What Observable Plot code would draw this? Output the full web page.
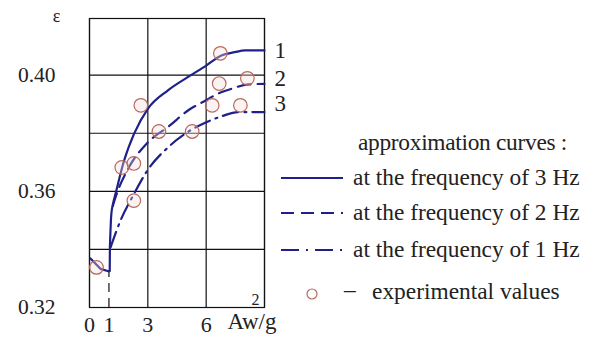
<!DOCTYPE html>
<html>
<head>
<meta charset="utf-8">
<script src="https://cdn.jsdelivr.net/npm/d3@7"></script>
<script src="https://cdn.jsdelivr.net/npm/@observablehq/plot@0.6"></script>
<style>
  html, body { margin: 0; padding: 0; background: #fff; }
  #wrap { position: relative; width: 589px; height: 338px; font-family: "Liberation Serif", "Times New Roman", serif; color: #222; }
  #wrap svg.plot { position: absolute; left: 0; top: 0; }
  .leg { position: absolute; font-size: 23.4px; white-space: nowrap; line-height: 1; }
</style>
</head>
<body>
<div id="wrap"></div>
<script>
// ---- data ----
const xTicks = [0, 1, 3, 6];
const yTicks = [0.32, 0.36, 0.40];
const xGrid = [0, 3, 6, 9];
const yGrid = [0.32, 0.34, 0.36, 0.38, 0.40];

// common starting segment
const baseX = [0.05, 0.57, 0.97, 1.04, 1.05];
const baseY = [0.3369, 0.3333, 0.3325, 0.3325, 0.341];

// curve 1: 3 Hz (solid)
const c1X = [1.05, 1.12, 1.22, 1.34, 1.78, 2.29, 3.0, 4.02, 5.05, 6.0, 6.78, 7.47, 8.0, 9.0];
const c1Y = [0.341, 0.352, 0.356, 0.3592, 0.3706, 0.3798, 0.3884, 0.3947, 0.3993, 0.4033, 0.4068, 0.4079, 0.4085, 0.4085];

// curve 2: 2 Hz (dashed)
const c2X = [1.2, 1.34, 2.03, 2.95, 4.1, 5.1, 5.95, 6.6, 7.3, 8.16, 9.0];
const c2Y = [0.355, 0.358, 0.3683, 0.3765, 0.3825, 0.388, 0.3912, 0.3936, 0.3953, 0.3968, 0.397];

// curve 3: 1 Hz (dash-dot)
const c3X = [1.09, 1.6, 2.2, 2.98, 4.1, 5.05, 5.95, 6.78, 7.64, 9.0];
const c3Y = [0.3408, 0.350, 0.358, 0.3672, 0.3755, 0.3804, 0.3836, 0.3858, 0.3873, 0.3873];

// experimental values
const expX = [0.36, 1.66, 2.28, 2.28, 2.64, 3.57, 5.28, 6.31, 6.73, 6.67, 7.76, 8.12];
const expY = [0.3338, 0.3682, 0.3696, 0.3568, 0.3896, 0.3806, 0.3806, 0.3896, 0.4075, 0.3971, 0.3896, 0.3989];

// curve number labels (placed at right end)
const curveLabels = ["1", "2", "3"];
const curveLabelY = [0.4085, 0.3989, 0.3902];

const legendTitle = "approximation curves :";
const legendItems = ["at the frequency of 3 Hz", "at the frequency of 2 Hz", "at the frequency of 1 Hz"];
const legendDash = "–";
const legendExp = "experimental values";

// ---- build tables ----
const toPts = (xs, ys) => xs.map((x, i) => ({x, y: ys[i]}));
const base = toPts(baseX, baseY);
const c1 = toPts(c1X, c1Y);
const c2 = toPts(c2X, c2Y);
const c3 = toPts(c3X, c3Y);
const exp = toPts(expX, expY);
const labels = curveLabels.map((t, i) => ({t, x: 9, y: curveLabelY[i]}));

const navy = "#20208a";
const circ = "#b86a60";
const font = "Liberation Serif, Times New Roman, serif";

const plot = Plot.plot({
  width: 589,
  height: 338,
  marginLeft: 89,
  marginRight: 325,
  marginTop: 18,
  marginBottom: 31,
  style: {fontFamily: font, fontSize: "22px", color: "#222", background: "transparent"},
  x: {domain: [0, 9]},
  y: {domain: [0.32, 0.4195]},
  marks: [
    Plot.gridX(xGrid, {stroke: "#111", strokeOpacity: 1, strokeWidth: 1.2}),
    Plot.gridY(yGrid, {stroke: "#111", strokeOpacity: 1, strokeWidth: 1.2}),
    Plot.frame({stroke: "#111", strokeWidth: 1.2}),
    Plot.ruleX([1], {y1: 0.32, y2: 0.3325, stroke: "#111", strokeWidth: 1.2, strokeDasharray: "9,6"}),
    Plot.axisX(xTicks, {tickSize: 0, tickPadding: 9, fontSize: 22, label: null, tickFormat: d => String(d)}),
    Plot.axisY(yTicks, {tickSize: 0, tickPadding: 34, fontSize: 21.5, label: null, tickFormat: d => d.toFixed(2)}),
    Plot.text(["ε"], {frameAnchor: "top-left", dx: -33, dy: -9, fontSize: 18, textAnchor: "middle"}),
    Plot.text(["Aw/g"], {frameAnchor: "bottom-right", dx: 12, dy: 21, fontSize: 23, textAnchor: "end"}),
    Plot.text(["2"], {frameAnchor: "bottom-right", dx: -9, dy: -3, fontSize: 16, textAnchor: "middle"}),
    Plot.line(base, {x: "x", y: "y", stroke: navy, strokeWidth: 2.2}),
    Plot.line(c1, {x: "x", y: "y", stroke: navy, strokeWidth: 2.2, curve: "monotone-x"}),
    Plot.line(c2, {x: "x", y: "y", stroke: navy, strokeWidth: 2.2, curve: "monotone-x", strokeDasharray: "13,7"}),
    Plot.line(c3, {x: "x", y: "y", stroke: navy, strokeWidth: 2.2, curve: "monotone-x", strokeDasharray: "16,6,2,6"}),
    Plot.dot(exp, {x: "x", y: "y", r: 6.8, stroke: circ, strokeWidth: 1.2, fill: "#f4dcd6", fillOpacity: 0.35}),
    Plot.text(labels, {x: "x", y: "y", text: "t", dx: 10, textAnchor: "start", fontSize: 23, clip: false})
  ]
});
plot.classList.add("plot");
const wrap = document.getElementById("wrap");
wrap.appendChild(plot);

// ---- legend (HTML) ----
function addDiv(text, left, cy) {
  const d = document.createElement("div");
  d.className = "leg";
  d.textContent = text;
  d.style.left = left + "px";
  d.style.top = (cy - 12) + "px";
  wrap.appendChild(d);
  return d;
}
const title = addDiv(legendTitle, 358, 143);
{
  const w = title.getBoundingClientRect().width;
  const target = 209;
  title.style.letterSpacing = ((target - w) / legendTitle.length) + "px";
}
const dashes = [null, "13,7", "18,7,2,7"];
const rowsY = [178, 213, 250];
legendItems.forEach((t, i) => {
  const s = document.createElementNS("http://www.w3.org/2000/svg", "svg");
  s.setAttribute("width", 64); s.setAttribute("height", 10);
  s.style.position = "absolute";
  s.style.left = "280px"; s.style.top = (rowsY[i] - 5) + "px";
  const l = document.createElementNS("http://www.w3.org/2000/svg", "line");
  l.setAttribute("x1", 1); l.setAttribute("x2", 63); l.setAttribute("y1", 5); l.setAttribute("y2", 5);
  l.setAttribute("stroke", navy); l.setAttribute("stroke-width", 2.2);
  if (dashes[i]) l.setAttribute("stroke-dasharray", dashes[i]);
  s.appendChild(l);
  wrap.appendChild(s);
  addDiv(t, 353, rowsY[i]);
});
{
  const s = document.createElementNS("http://www.w3.org/2000/svg", "svg");
  s.setAttribute("width", 14); s.setAttribute("height", 14);
  s.style.position = "absolute"; s.style.left = "305px"; s.style.top = "287px";
  const c = document.createElementNS("http://www.w3.org/2000/svg", "circle");
  c.setAttribute("cx", 7); c.setAttribute("cy", 7); c.setAttribute("r", 5);
  c.setAttribute("stroke", circ); c.setAttribute("fill", "none"); c.setAttribute("stroke-width", 1.2);
  s.appendChild(c);
  wrap.appendChild(s);
  addDiv(legendDash, 344, 290);
  addDiv(legendExp, 372, 292);
}
</script>
</body>
</html>
